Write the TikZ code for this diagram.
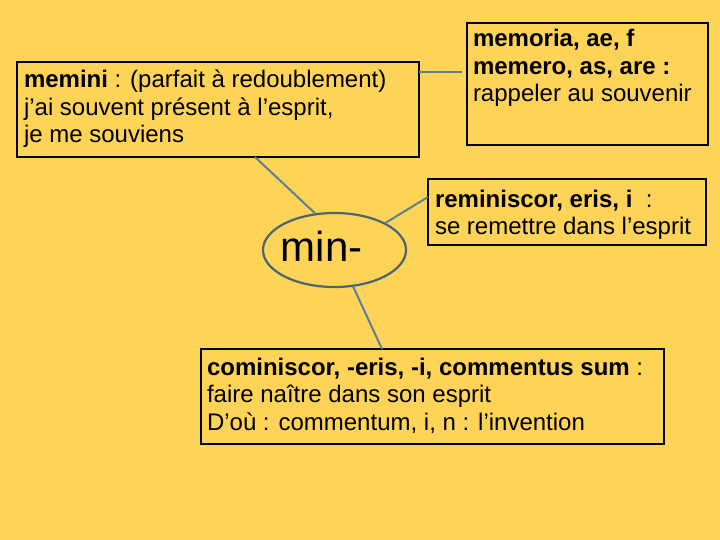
\documentclass[tikz,border=0pt]{standalone}
\usepackage{fontspec}
\setmainfont{Liberation Sans}
\usetikzlibrary{shapes.geometric}
\definecolor{bgyel}{HTML}{FDD457}
\definecolor{linkc}{HTML}{5E8090}
\definecolor{ellc}{HTML}{4B6472}
\tikzset{
  box/.style={draw=black, line width=1.6pt, rectangle, inner sep=0pt, outer sep=0pt, anchor=north west},
  txt/.style={anchor=base west, inner sep=0pt, outer sep=0pt, align=left, font=\fontsize{24}{27.5}\selectfont},
  link/.style={draw=linkc, line width=2pt}
}
\begin{document}
\begin{tikzpicture}[x=1pt,y=-1pt]
\fill[bgyel] (0,0) rectangle (720,540);
\useasboundingbox (0,0) rectangle (720,540);
% boxes
\node[box, minimum width=402pt, minimum height=95pt] (memini) at (17,62) {};
\node[box, minimum width=241pt, minimum height=122pt] (memoria) at (467,23) {};
\node[box, minimum width=278pt, minimum height=66pt] (remi) at (428,179) {};
\node[box, minimum width=463pt, minimum height=95pt] (comi) at (201,349) {};
\node[ellipse, draw=ellc, line width=2.2pt, minimum width=143pt, minimum height=74pt, inner sep=0pt] (minel) at (334.5,250) {};
% texts (anchored at the baseline of the last line)
\node[txt] (tmemini) at (24,143) {\textbf{memini} : (parfait à redoublement)\\j’ai souvent présent à l’esprit,\\je me souviens};
\node[txt] (tmemoria) at (473,102) {\textbf{memoria, ae, f}\\\textbf{memero, as, are :}\\rappeler au souvenir};
\node[txt] (tremi) at (435,235) {\textbf{reminiscor, eris, i} \ :\\se remettre dans l’esprit};
\node[txt] (tcomi) at (207,430) {\textbf{cominiscor, -eris, -i, commentus sum} :\\faire naître dans son esprit\\D’où : commentum, i, n : l’invention};
\node[anchor=base west, inner sep=0pt, font=\fontsize{42}{50}\selectfont] (tmin) at (280.5,261) {min-};
% connectors
\coordinate (memend) at (462,72);
\draw[link] ([yshift=-10pt]memini.north east) -- (memend);
\draw[link] ([xshift=238pt]memini.south west) -- (minel.118);
\draw[link] (minel.28) -- ([yshift=-18pt]remi.north west);
\draw[link] (minel.-63) -- ([xshift=181pt]comi.north west);
\end{tikzpicture}
\end{document}
